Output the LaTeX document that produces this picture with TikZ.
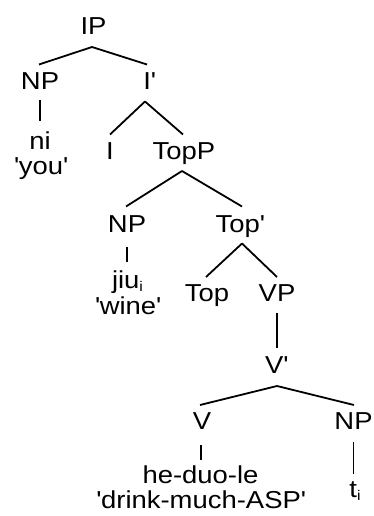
\documentclass[tikz,border=0pt]{standalone}
\usepackage{fontspec}
\setmainfont{Liberation Sans}[FakeStretch=1.12]
\newcommand\apos{\textquotesingle}
\newcommand\idx[1]{\raisebox{-3pt}{\fontsize{14}{14}\selectfont #1}}
\begin{document}
\begin{tikzpicture}[x=1pt,y=-1pt,
  lbl/.style={anchor=base,inner sep=0pt,font=\fontsize{24.5}{25}\selectfont},
  branch/.style={line width=1.8pt}]
\path[use as bounding box] (0,0) rectangle (373,516);

% labels (placed on their baselines)
\node[lbl] (ip)    at (93.5,35)  {IP};
\node[lbl] (npa)   at (40,90)    {NP};
\node[lbl] (ibar)  at (149.5,90) {I\apos};
\node[lbl] (ni)    at (40,149.5) {ni};
\node[lbl] (you)   at (41,174.5) {\apos you\apos};
\node[lbl] (i)     at (110,159.5) {I};
\node[lbl] (topp)  at (184,159.5) {TopP};
\node[lbl] (npb)   at (127,232)  {NP};
\node[lbl] (topbar) at (240,232) {Top\apos};
\node[lbl] (jiu)   at (127.5,288.5) {jiu\idx{i}};
\node[lbl] (wine)  at (128,314.5) {\apos wine\apos};
\node[lbl] (top)   at (207,301)  {Top};
\node[lbl] (vp)    at (277,301)  {VP};
\node[lbl] (vbar)  at (276.5,373) {V\apos};
\node[lbl] (v)     at (202,429)  {V};
\node[lbl] (npc)   at (353.5,429) {NP};
\node[lbl] (hdl)   at (200.5,483) {he-duo-le};
\node[lbl] (gloss) at (201,508)  {\apos drink-much-ASP\apos};
\node[lbl] (trace) at (355,497)  {t\idx{i}};

% branches
\draw[branch] ([xshift=-1.5pt,yshift=-12pt]ip.base) -- ([xshift=-1pt,yshift=25.5pt]npa.base);
\draw[branch] ([xshift=-1.5pt,yshift=-12pt]ip.base) -- ([xshift=-2.5pt,yshift=25.5pt]ibar.base);
\draw[branch] ([yshift=-10pt]npa.base) -- ([yshift=28.5pt]ni.base);
\draw[branch] ([xshift=-4.5pt,yshift=-11.5pt]ibar.base) -- ([yshift=25pt]i.base);
\draw[branch] ([xshift=-4.5pt,yshift=-11.5pt]ibar.base) -- ([xshift=-1pt,yshift=25pt]topp.base);
\draw[branch] ([xshift=-2pt,yshift=-11.5pt]topp.base) -- ([xshift=-1pt,yshift=25.5pt]npb.base);
\draw[branch] ([xshift=-2pt,yshift=-11.5pt]topp.base) -- ([xshift=2pt,yshift=25.5pt]topbar.base);
\draw[branch] ([yshift=-15pt]npb.base) -- ([xshift=-0.5pt,yshift=26.5pt]jiu.base);
\draw[branch] ([xshift=2pt,yshift=-11.5pt]topbar.base) -- ([xshift=-1pt,yshift=24pt]top.base);
\draw[branch] ([xshift=2pt,yshift=-11.5pt]topbar.base) -- ([yshift=24pt]vp.base);
\draw[branch] ([yshift=-12pt]vp.base) -- ([xshift=0.5pt,yshift=25pt]vbar.base);
\draw[branch] ([xshift=0.5pt,yshift=-13pt]vbar.base) -- ([xshift=-2pt,yshift=24pt]v.base);
\draw[branch] ([xshift=0.5pt,yshift=-13pt]vbar.base) -- ([xshift=0.5pt,yshift=24pt]npc.base);
\draw[branch] ([xshift=-1pt,yshift=-16pt]v.base) -- ([xshift=0.5pt,yshift=23pt]hdl.base);
\draw[branch] ([yshift=-13pt]npc.base) -- ([xshift=-1.5pt,yshift=23pt]trace.base);
\end{tikzpicture}
\end{document}
